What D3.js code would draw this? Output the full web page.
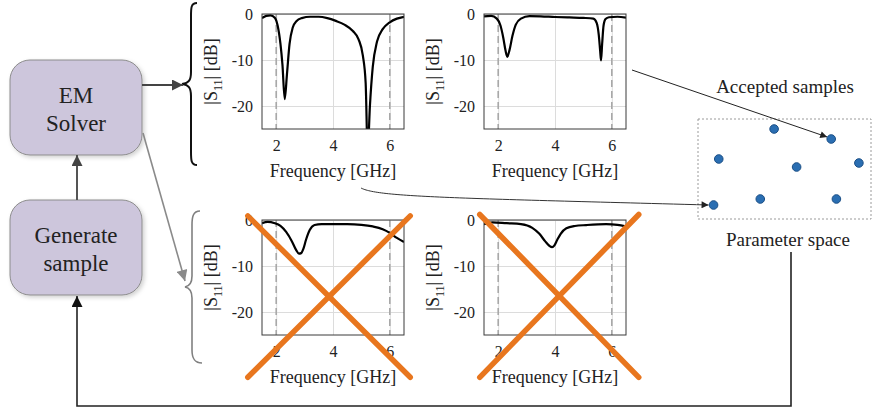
<!DOCTYPE html>
<html>
<head>
<meta charset="utf-8">
<script src="https://cdn.jsdelivr.net/npm/d3@7"></script>
<style>
  body { margin: 0; background: #fff; }
  svg { display: block; font-family: "Liberation Serif", "Times New Roman", serif; }
</style>
</head>
<body>
<svg id="chart" width="872" height="417"></svg>
<script>
// S11 traces
const freqTL = [1.5, 1.65, 1.8, 1.95, 2.05, 2.15, 2.22, 2.3, 2.38, 2.47, 2.58, 2.72, 2.9, 3.2, 3.5, 3.8, 4.1, 4.4, 4.7, 4.9, 5.05, 5.15, 5.22, 5.3, 5.4, 5.55, 5.75, 6.0, 6.25, 6.5];
const s11TL  = [-0.9, -0.4, -0.3, -0.8, -2.5, -6.5, -11, -18.5, -13, -6.5, -3, -1.5, -0.9, -0.6, -0.6, -0.9, -1.5, -2.3, -3.7, -5.5, -9, -15, -30, -20, -11.5, -6, -3.3, -1.8, -1, -0.6];

const freqTR = [1.5, 1.75, 1.95, 2.08, 2.18, 2.26, 2.32, 2.4, 2.5, 2.62, 2.8, 3.1, 3.5, 4.0, 4.5, 5.0, 5.35, 5.47, 5.54, 5.59, 5.62, 5.66, 5.71, 5.78, 5.9, 6.2, 6.5];
const s11TR  = [-0.5, -0.4, -1, -2.5, -5.2, -8, -9.3, -7.8, -4.8, -2.3, -1, -0.45, -0.5, -0.65, -0.75, -0.85, -1, -2, -4.5, -8, -10.1, -6.5, -2.5, -1.1, -0.7, -0.6, -0.8];

const freqBL = [1.5, 1.7, 1.95, 2.15, 2.35, 2.55, 2.7, 2.8, 2.88, 2.96, 3.05, 3.18, 3.35, 3.6, 4.0, 4.5, 5.0, 5.4, 5.75, 6.0, 6.25, 6.5];
const s11BL  = [-0.7, -0.4, -0.7, -1.3, -2.6, -4.6, -6.5, -7.3, -7.2, -6.2, -4.3, -2.2, -1.1, -0.9, -0.9, -0.9, -1.05, -1.4, -2, -2.8, -3.9, -4.8];

const freqBR = [1.5, 1.8, 2.3, 2.8, 3.2, 3.45, 3.65, 3.8, 3.9, 3.98, 4.08, 4.2, 4.4, 4.7, 5.1, 5.8, 6.2, 6.5];
const s11BR  = [-0.9, -0.5, -0.7, -0.9, -1.7, -3, -4.6, -5.6, -5.9, -5.5, -4.3, -3, -1.8, -1.3, -1.1, -0.9, -1.05, -1.4];

const freqTicks = [2, 4, 6];
const dbTicks = [0, -10, -20];
const bandEdges = [2, 6];

// sampled points in the parameter space (normalised)
const paramX = [0.44, 0.77, 0.12, 0.57, 0.93, 0.09, 0.36, 0.80];
const paramY = [0.90, 0.80, 0.60, 0.52, 0.56, 0.14, 0.20, 0.20];

// rejected responses are struck out, ends given in plot units [f, dB]
const crossBL = [[1.0, 0.9], [6.72, -34.2]];
const crossBR = [[1.35, 1.2], [6.95, -34.2]];

const svg = d3.select("#chart");
svg.append("rect").attr("width", 872).attr("height", 417).attr("fill", "#fff");

const defs = svg.append("defs");
function marker(id, color, w, h) {
  defs.append("marker")
    .attr("id", id)
    .attr("viewBox", "0 0 10 10")
    .attr("refX", 10).attr("refY", 5)
    .attr("markerUnits", "userSpaceOnUse")
    .attr("markerWidth", w).attr("markerHeight", h)
    .attr("orient", "auto")
    .append("path").attr("d", "M0,0 L10,5 L0,10 Z").attr("fill", color);
}
marker("headDark", "#444", 13, 11);
marker("headGray", "#8a8a8a", 13, 11);
marker("headBlack", "#111", 13, 11);
marker("headThin", "#222", 8, 7);

const shadow = defs.append("filter").attr("id", "shadow")
  .attr("x", "-10%").attr("y", "-10%").attr("width", "130%").attr("height", "130%");
shadow.append("feDropShadow").attr("dx", 2).attr("dy", 2).attr("stdDeviation", 2)
  .attr("flood-color", "#000").attr("flood-opacity", 0.18);

// ---- small S11 plots ----
const panels = [
  { id: "tl", left: 262, top: 14, f: freqTL, s: s11TL },
  { id: "tr", left: 484, top: 14, f: freqTR, s: s11TR },
  { id: "bl", left: 262, top: 220, f: freqBL, s: s11BL, cross: crossBL },
  { id: "br", left: 484, top: 220, f: freqBR, s: s11BR, cross: crossBR },
];
const pw = 142, ph = 115;

panels.forEach(p => {
  const x = d3.scaleLinear().domain([1.5, 6.5]).range([p.left, p.left + pw]);
  const y = d3.scaleLinear().domain([-25, 0]).range([p.top + ph, p.top]);
  p.x = x; p.y = y;
  const g = svg.append("g");

  defs.append("clipPath").attr("id", "clip-" + p.id)
    .append("rect").attr("x", p.left).attr("y", p.top).attr("width", pw).attr("height", ph);

  // grid
  g.append("g")
    .attr("transform", `translate(0,${p.top + ph})`)
    .call(d3.axisBottom(x).tickValues(freqTicks).tickSize(-ph).tickFormat(""))
    .call(a => a.select(".domain").remove())
    .call(a => a.selectAll("line").attr("stroke", "#dcdcdc"));
  g.append("g")
    .attr("transform", `translate(${p.left},0)`)
    .call(d3.axisLeft(y).tickValues(dbTicks).tickSize(-pw).tickFormat(""))
    .call(a => a.select(".domain").remove())
    .call(a => a.selectAll("line").attr("stroke", "#dcdcdc"));

  // band edges
  g.selectAll(".band").data(bandEdges).enter().append("line")
    .attr("x1", d => x(d)).attr("x2", d => x(d))
    .attr("y1", p.top).attr("y2", p.top + ph)
    .attr("stroke", "#a8a8a8").attr("stroke-width", 1.6)
    .attr("stroke-dasharray", "7,4");

  // trace
  const line = d3.line().x((d, i) => x(p.f[i])).y(d => y(d)).curve(d3.curveMonotoneX);
  g.append("path").datum(p.s)
    .attr("clip-path", `url(#clip-${p.id})`)
    .attr("d", line)
    .attr("fill", "none").attr("stroke", "#000").attr("stroke-width", 2.2);

  // frame
  g.append("rect").attr("x", p.left).attr("y", p.top).attr("width", pw).attr("height", ph)
    .attr("fill", "none").attr("stroke", "#3a3a3a").attr("stroke-width", 1);

  // tick labels
  g.append("g")
    .attr("transform", `translate(0,${p.top + ph})`)
    .call(d3.axisBottom(x).tickValues(freqTicks).tickSize(0).tickPadding(11).tickFormat(d3.format("d")))
    .call(a => a.select(".domain").remove())
    .call(a => a.selectAll("text").attr("font-size", 16).attr("font-family", "Liberation Serif").attr("fill", "#222"));
  g.append("g")
    .attr("transform", `translate(${p.left},0)`)
    .call(d3.axisLeft(y).tickValues(dbTicks).tickSize(0).tickPadding(9).tickFormat(d => d === 0 ? "0" : "-" + Math.abs(d)))
    .call(a => a.select(".domain").remove())
    .call(a => a.selectAll("text").attr("font-size", 16).attr("font-family", "Liberation Serif").attr("fill", "#222"));

  g.append("text")
    .attr("x", p.left + pw / 2).attr("y", p.top + ph + 48)
    .attr("text-anchor", "middle").attr("font-size", 18).attr("fill", "#222")
    .text("Frequency [GHz]");

  const yl = g.append("text")
    .attr("transform", `translate(${p.left - 45},${p.top + ph / 2}) rotate(-90)`)
    .attr("text-anchor", "middle").attr("font-size", 18).attr("fill", "#222");
  yl.append("tspan").text("|S");
  yl.append("tspan").attr("font-size", 12).attr("dy", 5).text("11");
  yl.append("tspan").attr("dy", -5).text("| [dB]");
});

// ---- flow boxes ----
const boxes = [
  { x: 10, y: 60, w: 132, h: 95, lines: ["EM", "Solver"] },
  { x: 10, y: 200, w: 132, h: 95, lines: ["Generate", "sample"] },
];
boxes.forEach(b => {
  svg.append("rect").attr("x", b.x).attr("y", b.y).attr("width", b.w).attr("height", b.h)
    .attr("rx", 20).attr("fill", "#cdc6dc").attr("stroke", "#8c8c8c").attr("stroke-width", 1)
    .attr("filter", "url(#shadow)");
  b.lines.forEach((t, i) => {
    svg.append("text").attr("x", b.x + b.w / 2).attr("y", b.y + 43 + i * 28)
      .attr("text-anchor", "middle").attr("font-size", 23).attr("fill", "#222").text(t);
  });
});

// braces
svg.append("path")
  .attr("d", "M197,3 C191,3 191,8 191,16 L191,72 C191,80 189,83 182,84 C189,85 191,88 191,96 L191,152 C191,160 191,165 197,165")
  .attr("fill", "none").attr("stroke", "#111").attr("stroke-width", 2);
svg.append("path")
  .attr("d", "M200,211 C193,211 192,217 192,225 L192,276 C192,283 190,286 185,287 C190,288 192,291 192,298 L192,350 C192,358 194,363 202,363")
  .attr("fill", "none").attr("stroke", "#808080").attr("stroke-width", 1.6);

// arrows between blocks
svg.append("line").attr("x1", 142).attr("y1", 85).attr("x2", 183).attr("y2", 85)
  .attr("stroke", "#444").attr("stroke-width", 2).attr("marker-end", "url(#headDark)");
svg.append("line").attr("x1", 77).attr("y1", 200).attr("x2", 77).attr("y2", 155)
  .attr("stroke", "#555").attr("stroke-width", 2).attr("marker-end", "url(#headDark)");
svg.append("line").attr("x1", 143).attr("y1", 133).attr("x2", 185).attr("y2", 281)
  .attr("stroke", "#8a8a8a").attr("stroke-width", 1.6).attr("marker-end", "url(#headGray)");
svg.append("path").attr("d", "M791,252 L791,406 L77,406 L77,296")
  .attr("fill", "none").attr("stroke", "#222").attr("stroke-width", 1.6)
  .attr("marker-end", "url(#headBlack)");

// ---- parameter space ----
const px = d3.scaleLinear().domain([0, 1]).range([698, 871]);
const py = d3.scaleLinear().domain([0, 1]).range([219, 119]);
svg.append("rect").attr("x", 698).attr("y", 119).attr("width", 173).attr("height", 100)
  .attr("fill", "none").attr("stroke", "#9a9a9a").attr("stroke-width", 1).attr("stroke-dasharray", "2,2");

// accepted responses point to their samples
svg.append("line").attr("x1", 632).attr("y1", 70)
  .attr("x2", px(paramX[1]) - 4).attr("y2", py(paramY[1]) - 2)
  .attr("stroke", "#222").attr("stroke-width", 1).attr("marker-end", "url(#headThin)");
svg.append("path")
  .attr("d", `M361,188 C378,197 450,198 ${px(paramX[5]) - 5},${py(paramY[5])}`)
  .attr("fill", "none").attr("stroke", "#333").attr("stroke-width", 1).attr("marker-end", "url(#headThin)");

svg.selectAll(".sample").data(paramX).enter().append("circle")
  .attr("cx", (d) => px(d)).attr("cy", (d, i) => py(paramY[i]))
  .attr("r", 4.3).attr("fill", "#2a6eb2").attr("stroke", "#1b4f86").attr("stroke-width", 1);

svg.append("text").attr("x", 785).attr("y", 93).attr("text-anchor", "middle")
  .attr("font-size", 19).attr("fill", "#222").text("Accepted samples");
svg.append("text").attr("x", 788).attr("y", 246).attr("text-anchor", "middle")
  .attr("font-size", 19).attr("fill", "#222").text("Parameter space");

// ---- orange crosses over rejected responses ----
panels.filter(p => p.cross).forEach(p => {
  const [a, b] = p.cross;
  [[a, b], [[b[0], a[1]], [a[0], b[1]]]].forEach(([s, e]) => {
    svg.append("line")
      .attr("x1", p.x(s[0])).attr("y1", p.y(s[1]))
      .attr("x2", p.x(e[0])).attr("y2", p.y(e[1]))
      .attr("stroke", "#e8761e").attr("stroke-width", 5.5).attr("stroke-linecap", "round");
  });
});
</script>
</body>
</html>
